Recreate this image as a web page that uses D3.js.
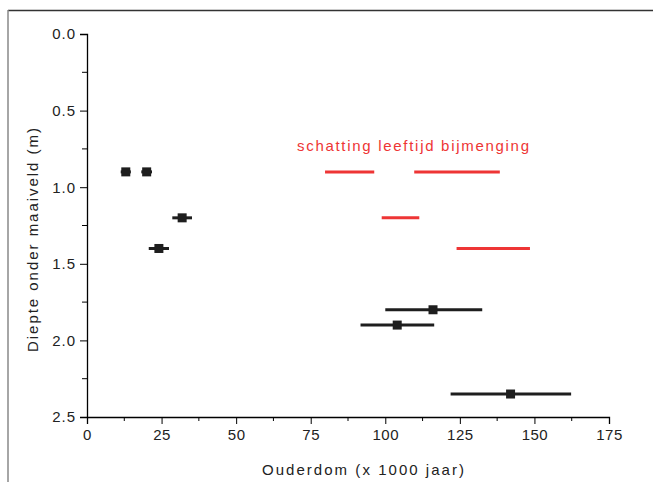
<!DOCTYPE html>
<html><head><meta charset="utf-8">
<script src="https://cdn.jsdelivr.net/npm/d3@7"></script>
<style>
body{margin:0;background:#fff;}
text{font-family:"Liberation Sans",Arial,sans-serif;}
</style></head><body>
<svg id="c" width="653" height="482"></svg>
<script>
// Measured points (black): age (x1000 yr), depth (m), error half-width
const ages   = [13, 20, 31.9, 24.1, 116, 104, 142];
const depths = [0.9, 0.9, 1.2, 1.4, 1.8, 1.9, 2.35];
const errLo  = [11.3, 18.2, 28.6, 20.7, 100, 91.7, 121.9];
const errHi  = [14.7, 21.8, 35.2, 27.5, 132.5, 116.4, 162.3];
// Red estimate ranges (schatting leeftijd bijmenging)
const estDepth = [0.9, 0.9, 1.2, 1.4];
const estLo    = [79.8, 109.7, 98.8, 123.9];
const estMid   = [88.2, 123.9, 105.2, 136.2];
const estHi    = [96.3, 138.4, 111.4, 148.5];
const xTicks = [0, 25, 50, 75, 100, 125, 150, 175];
const yTicks = [0.0, 0.5, 1.0, 1.5, 2.0, 2.5];
const xLabel = "Ouderdom (x 1000 jaar)";
const yLabel = "Diepte onder maaiveld (m)";
const estLabel = "schatting leeftijd bijmenging";

const svg = d3.select("#c");
const x = d3.scaleLinear().domain([0,175]).range([87,609]);
const y = d3.scaleLinear().domain([0,2.5]).range([34,417]);
const dark = "#1e1e1e", red = "#ee3535";

// frame
svg.append("line").attr("x1",8).attr("x2",653).attr("y1",10.5).attr("y2",10.5).attr("stroke","#333").attr("stroke-width",1.5);
svg.append("line").attr("x1",8).attr("x2",8).attr("y1",10).attr("y2",482).attr("stroke","#888").attr("stroke-width",1.5);

// axes
const xAxis = d3.axisBottom(x).tickValues(xTicks).tickFormat(d3.format("d")).tickSizeOuter(0).tickSize(7).tickPadding(5);
const gx = svg.append("g").attr("transform","translate(0,417)").call(xAxis);
gx.selectAll("text").attr("font-size",15).attr("fill","#222").attr("font-family","Liberation Sans, Arial").style("letter-spacing","0.5px");
const xMinor = d3.range(12.5,175,25);
gx.selectAll(".mn").data(xMinor).enter().append("line").attr("x1",d=>x(d)).attr("x2",d=>x(d)).attr("y1",0).attr("y2",4).attr("stroke","#000");

const yAxis = d3.axisLeft(y).tickValues(yTicks).tickFormat(d3.format(".1f")).tickSizeOuter(0).tickSize(7).tickPadding(4);
const gy = svg.append("g").attr("transform","translate(87,0)").call(yAxis);
gy.selectAll("text").attr("font-size",15).attr("fill","#222").attr("font-family","Liberation Sans, Arial").style("letter-spacing","1px");
const yMinor = d3.range(0.25,2.5,0.5);
gy.selectAll(".mn").data(yMinor).enter().append("line").attr("x1",0).attr("x2",-5).attr("y1",d=>y(d)).attr("y2",d=>y(d)).attr("stroke","#000");
gx.select(".domain").attr("stroke-width",1.3);
gy.select(".domain").attr("stroke-width",1.3);

// titles
svg.append("text").attr("x",262).attr("y",475).attr("font-size",15).attr("fill","#222")
  .attr("textLength",202).attr("lengthAdjust","spacing").text(xLabel);
svg.append("text").attr("transform","translate(38,352) rotate(-90)").attr("font-size",15).attr("fill","#222")
  .attr("textLength",224).attr("lengthAdjust","spacing").text(yLabel);
svg.append("text").attr("x",297).attr("y",151).attr("font-size",15).attr("fill",red)
  .attr("textLength",232).attr("lengthAdjust","spacing").text(estLabel);

// red estimate ranges
const est = estDepth.map((d,i)=>({d, lo:estLo[i], mid:estMid[i], hi:estHi[i]}));
svg.selectAll(".est").data(est).enter().append("line")
  .attr("x1",d=>x(d.lo)).attr("x2",d=>x(d.hi)).attr("y1",d=>y(d.d)).attr("y2",d=>y(d.d))
  .attr("stroke",red).attr("stroke-width",3);

// black error bars + squares
const pts = ages.map((a,i)=>({a, d:depths[i], lo:errLo[i], hi:errHi[i]}));
svg.selectAll(".err").data(pts).enter().append("line")
  .attr("x1",d=>x(d.lo)).attr("x2",d=>x(d.hi)).attr("y1",d=>y(d.d)).attr("y2",d=>y(d.d))
  .attr("stroke",dark).attr("stroke-width",3);
svg.selectAll(".sq").data(pts).enter().append("rect")
  .attr("x",d=>x(d.a)-4.5).attr("y",d=>y(d.d)-4.5).attr("width",9).attr("height",9).attr("fill",dark);
</script></body></html>
